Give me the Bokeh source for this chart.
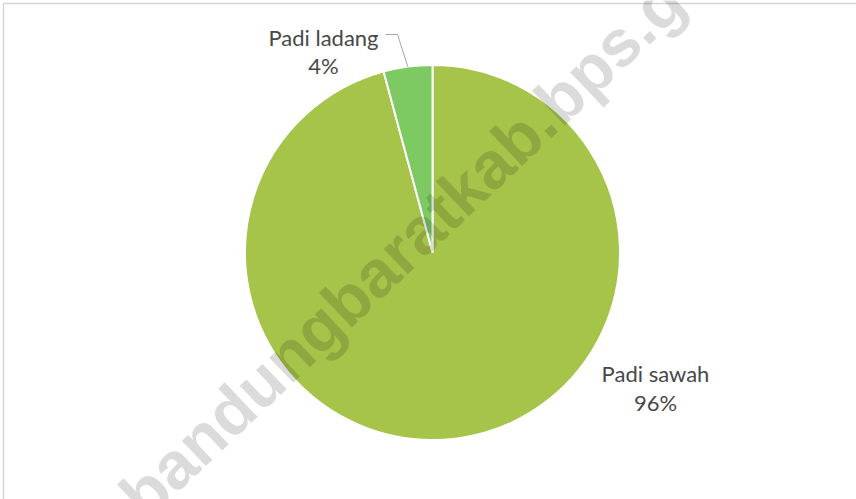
import math
from bokeh.plotting import figure
from bokeh.models import Range1d, ColumnDataSource
from bokeh.core.properties import value
from bokeh.embed import file_html
from bokeh.resources import INLINE

# ---- data ----
categories = ["Padi sawah", "Padi ladang"]
shares = [95.8, 4.2]
colors = ["#A6C34A", "#7DC962"]
watermark = "www.bandungbaratkab.bps.go.id"

W, H = 856, 499

def px(X):
    return X

def py(Y):
    return H - Y

p = figure(width=W, height=H, output_backend="svg", toolbar_location=None,
           x_range=Range1d(0, W), y_range=Range1d(0, H),
           x_axis_type=None, y_axis_type=None, min_border=0,
           outline_line_color=None,
           background_fill_color="white", border_fill_color="white")
p.grid.visible = False

# chart-area border (top and left edges visible in the reference)
p.line(x=[px(3), px(3), px(W + 5)], y=[py(H + 5), py(3), py(3)],
       line_color="#D4D4D4", line_width=1.5)

cx, cy, R = px(432), py(252), 187.5

total = sum(shares)
starts, ends, mids = [], [], []
acc = 0.0
for s in shares:
    a0 = math.pi / 2 - acc / total * 2 * math.pi
    acc += s
    a1 = math.pi / 2 - acc / total * 2 * math.pi
    starts.append(a0)
    ends.append(a1)
    mids.append((a0 + a1) / 2)

src = ColumnDataSource(dict(start=starts, end=ends, color=colors, cat=categories))
p.wedge(x=cx, y=cy, radius=R, radius_units="screen", start_angle="start", end_angle="end",
        direction="clock", fill_color="color", line_color="white", line_width=2, source=src)

# watermark
p.text(x=[px(7)], y=[py(622)], text=[watermark], angle=math.radians(43.5),
       text_font=value("Liberation Sans"), text_font_style="bold", text_font_size="66px",
       text_color="black", text_alpha=0.14, text_align="left", text_baseline="alphabetic")

# leader line for the small slice
m = mids[1]
ex, ey = cx + R * math.cos(m), cy + R * math.sin(m)
p.line(x=[px(385), px(397), ex], y=[py(34), py(34), ey], line_color="#A6A6A6", line_width=1)

# labels
pcts = [f"{round(s / total * 100)}%" for s in shares]
lab_x = [px(655), px(323)]
lab_y1 = [py(373), py(37)]
lab_y2 = [py(402), py(65)]
font = value("Lato")
p.text(x=lab_x, y=lab_y1, text=categories, text_font=font, text_font_size="22px",
       text_color="#484848", text_align="center", text_baseline="alphabetic")
p.text(x=lab_x, y=lab_y2, text=pcts, text_font=font, text_font_size="22px",
       text_color="#484848", text_align="center", text_baseline="alphabetic")

open("out.html", "w").write(file_html(p, INLINE))
